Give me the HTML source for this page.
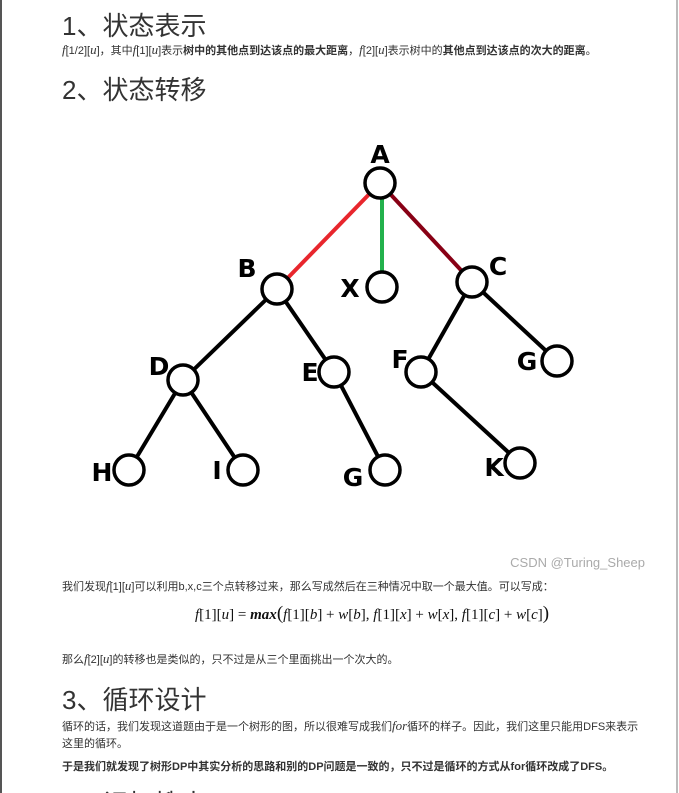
<!DOCTYPE html>
<html><head><meta charset="utf-8"><style>
html,body{margin:0;width:679px;height:793px;overflow:hidden}
body{background:#fff;font-family:"Liberation Sans","Noto Sans CJK SC",sans-serif;color:#222;position:relative}
.t{position:absolute;left:62px;white-space:nowrap}
h2{position:absolute;left:62px;margin:0;font-weight:normal;font-size:26px;color:#333;white-space:nowrap}
.p{font-size:11px;color:#333}
i.m{font-family:"Liberation Serif",serif;font-size:13px}
b{font-weight:bold}
</style></head><body>
<div style="position:absolute;left:0;top:0;width:2px;height:793px;background:#555"></div>
<div style="position:absolute;left:676px;top:0;width:2px;height:793px;background:#bbb"></div>
<h2 style="top:6px">1、状态表示</h2>
<div class="t p" style="top:42px"><i class="m">f</i>[1/2][<i class="m">u</i>]，其中<i class="m">f</i>[1][<i class="m">u</i>]表示<b>树中的其他点到达该点的最大距离</b>，<i class="m">f</i>[2][<i class="m">u</i>]表示树中的<b>其他点到达该点的次大的距离</b>。</div>
<h2 style="top:70px">2、状态转移</h2>
<svg style="position:absolute;left:0;top:0" width="679" height="580">
<g stroke="#000" stroke-width="4" fill="none">
<line x1="277" y1="289" x2="183" y2="380"/><line x1="277" y1="289" x2="334" y2="372"/>
<line x1="472" y1="282" x2="421" y2="372"/><line x1="472" y1="282" x2="557" y2="361"/>
<line x1="183" y1="380" x2="129" y2="470"/><line x1="183" y1="380" x2="243" y2="470"/>
<line x1="334" y1="372" x2="385" y2="470"/><line x1="421" y1="372" x2="520" y2="463"/>
</g>
<line x1="380" y1="183" x2="277" y2="289" stroke="#e8262d" stroke-width="4"/>
<line x1="382" y1="183" x2="382" y2="287" stroke="#22b14c" stroke-width="4"/>
<line x1="380" y1="183" x2="472" y2="282" stroke="#880015" stroke-width="4"/>
<g stroke="#000" stroke-width="3.5" fill="#fff">
<circle cx="380" cy="183" r="15"/><circle cx="277" cy="289" r="15"/><circle cx="382" cy="287" r="15"/><circle cx="472" cy="282" r="15"/>
<circle cx="183" cy="380" r="15"/><circle cx="334" cy="372" r="15"/><circle cx="421" cy="372" r="15"/><circle cx="557" cy="361" r="15"/>
<circle cx="129" cy="470" r="15"/><circle cx="243" cy="470" r="15"/><circle cx="385" cy="470" r="15"/><circle cx="520" cy="463" r="15"/>
</g>
<g font-family="DejaVu Sans" font-weight="bold" font-size="25" fill="#000" text-anchor="middle">
<text x="380" y="163">A</text><text x="247" y="277">B</text><text x="350" y="297">X</text><text x="498" y="275">C</text>
<text x="159" y="375">D</text><text x="310" y="381">E</text><text x="400" y="368">F</text><text x="527" y="370">G</text>
<text x="102" y="481">H</text><text x="217" y="479">I</text><text x="353" y="486">G</text><text x="494" y="476">K</text>
</g>
<text x="645" y="567" font-size="13" fill="#aaa" text-anchor="end" font-family="Liberation Sans">CSDN @Turing_Sheep</text>
</svg>
<div class="t p" style="top:578px">我们发现<i class="m">f</i>[1][<i class="m">u</i>]可以利用b,x,c三个点转移过来，那么写成然后在三种情况中取一个最大值。可以写成：</div>
<div class="t" style="top:603px;left:195px;font-family:'Liberation Serif',serif;font-size:15px;color:#111"><i>f</i>[1][<i>u</i>] = <i><b>max</b></i><span style="font-size:19px">(</span><i>f</i>[1][<i>b</i>] + <i>w</i>[<i>b</i>], <i>f</i>[1][<i>x</i>] + <i>w</i>[<i>x</i>], <i>f</i>[1][<i>c</i>] + <i>w</i>[<i>c</i>]<span style="font-size:19px">)</span></div>
<div class="t p" style="top:651px">那么<i class="m">f</i>[2][<i class="m">u</i>]的转移也是类似的，只不过是从三个里面挑出一个次大的。</div>
<h2 style="top:680px">3、循环设计</h2>
<div class="t p" style="top:717px;line-height:17px">循环的话，我们发现这道题由于是一个树形的图，所以很难写成我们<i class="m">for</i>循环的样子。因此，我们这里只能用DFS来表示<br>这里的循环。</div>
<div class="t p" style="top:758px;font-weight:bold">于是我们就发现了树形DP中其实分析的思路和别的DP问题是一致的，只不过是循环的方式从for循环改成了DFS。</div>
<h2 style="top:784px">4、记忆搜索</h2>
</body></html>
